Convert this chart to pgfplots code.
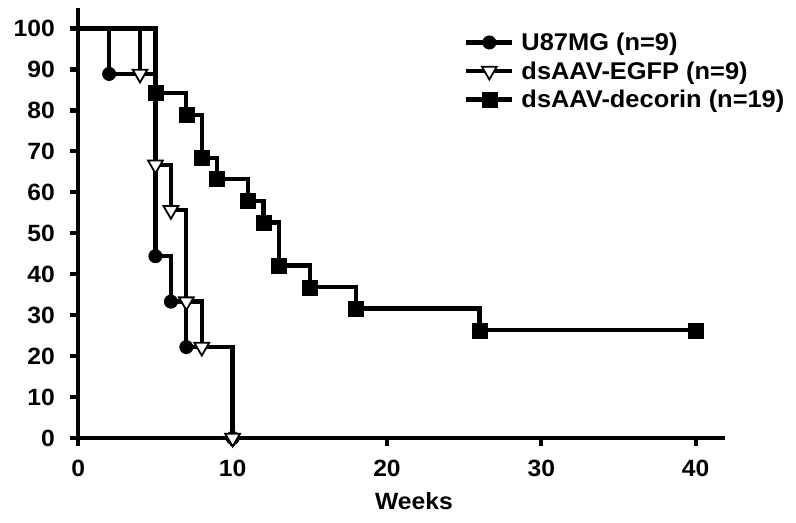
\documentclass[border=0pt]{standalone}
\usepackage{fontspec}
\setmainfont{Liberation Sans}[FakeStretch=1.05]
\usepackage{pgfplots}
\pgfplotsset{compat=1.18}
\pgfplotstableread{
t s
0 100
2 88.9
5 44.4
6 33.3
7 22.2
10 0
}\uSeven
\pgfplotstableread{
t s
0 100
4 88.9
5 66.7
6 55.6
7 33.3
8 22.2
10 0
}\egfp
\pgfplotstableread{
t s
0 100
5 84.2
7 78.9
8 68.4
9 63.2
11 57.9
12 52.6
13 42.1
15 36.8
18 31.6
26 26.3
40 26.3
}\decorin
\begin{document}
\begin{tikzpicture}
\begin{axis}[
  at={(0,0)}, anchor=south west,
  scale only axis, width=646.7bp, height=430bp,
  xmin=0, xmax=41.9, ymin=0, ymax=105,
  axis lines=left,
  axis line style={-, line width=4.3bp, black},
  xtick={0,10,20,30,40}, ytick={0,10,...,100},
  tick align=outside, major tick length=8bp,
  tick style={line width=4.3bp, black},
  /pgf/number format/assume math mode=true,
  ticklabel style={font=\fontsize{23.5bp}{26bp}\selectfont\bfseries},
  yticklabel style={xshift=-12bp},
  xticklabel style={yshift=-11bp},
  xlabel={Weeks},
  xlabel style={at={(rel axis cs:0.519,0)}, anchor=base, inner sep=0pt, yshift=-71bp, font=\fontsize{23.5bp}{26bp}\selectfont\bfseries},
  clip=false,
  legend style={at={(rel axis cs:0.5964,0.947)}, anchor=north west, draw=none, fill=none,
    font=\fontsize{24.2bp}{27bp}\selectfont\bfseries, row sep=5.5bp, column sep=5bp, inner sep=0pt},
  legend cell align=left,
  legend image code/.code={\draw[mark repeat=2,mark phase=2,#1] plot coordinates {(0bp,0bp) (23bp,0bp) (46bp,0bp)};},
]
\addplot[const plot, black, line width=4.3bp, mark=*, mark size=6.5bp, mark phase=2, mark repeat=1, mark options={solid, fill=black, line width=1bp}] table[x=t,y=s] {\uSeven};
\addlegendentry{U87MG (n=9)}
\addplot[const plot, black, line width=4.3bp, mark=triangle*, mark size=8.5bp, mark phase=2, mark repeat=1, mark options={solid, fill=white, draw=black, line width=1.8bp, rotate=180}] table[x=t,y=s] {\egfp};
\addlegendentry{dsAAV-EGFP (n=9)}
\addplot[const plot, black, line width=4.3bp, mark=square*, mark size=7.5bp, mark phase=2, mark repeat=1, mark options={solid, fill=black, line width=0.5bp}] table[x=t,y=s] {\decorin};
\addlegendentry{dsAAV-decorin (n=19)}
\end{axis}
\pgfresetboundingbox
\useasboundingbox (-78.3bp,-85bp) rectangle (717.7bp,438bp);
\end{tikzpicture}
\end{document}
